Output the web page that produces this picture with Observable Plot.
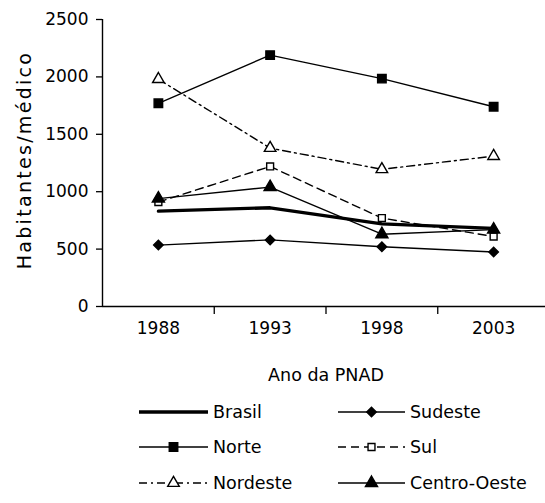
<!DOCTYPE html>
<html><head><meta charset="utf-8">
<script src="https://cdn.jsdelivr.net/npm/d3@7"></script>
<script src="https://cdn.jsdelivr.net/npm/@observablehq/plot@0.6"></script>
<style>
body{margin:0;background:#fff;font-family:"DejaVu Sans",sans-serif}
#chart{width:545px}
#chart svg{display:block}
</style>
</head><body><div id="chart"></div>
<script>
// ---- data ----
const years = [1988, 1993, 1998, 2003];
const yTicks = [0, 500, 1000, 1500, 2000, 2500];
const seriesNames = ["Brasil", "Sudeste", "Norte", "Sul", "Nordeste", "Centro-Oeste"];
const brasil      = [830, 860, 720, 680];
const sudeste     = [535, 580, 520, 475];
const norte       = [1770, 2190, 1985, 1740];
const sul         = [910, 1220, 770, 610];
const nordeste    = [1980, 1380, 1195, 1310];
const centroOeste = [940, 1040, 630, 670];
const yLabel = "Habitantes/médico";
const xLabel = "Ano da PNAD";

const seriesValues = [brasil, sudeste, norte, sul, nordeste, centroOeste];
const table = [];
seriesNames.forEach((s, i) => years.forEach((yr, j) => table.push({series: s, year: yr, value: seriesValues[i][j]})));

// ---- styles ----
const styles = {
  "Brasil":       {sw: 3.3, dash: null, symbol: null},
  "Sudeste":      {sw: 1.4, dash: null, symbol: "diamond2", fill: "black", r: 4.3},
  "Norte":        {sw: 1.4, dash: null, symbol: "square", fill: "black", r: 4.8},
  "Sul":          {sw: 1.4, dash: "8,5", symbol: "square", fill: "white", r: 3.9},
  "Nordeste":     {sw: 1.4, dash: "8,4,2,4", symbol: "triangle", fill: "white", r: 4.3},
  "Centro-Oeste": {sw: 1.4, dash: null, symbol: "triangle", fill: "black", r: 4.5}
};
const bounds = years.slice(1).map((y, i) => (y + years[i]) / 2);
const xDomain = [years[0] - 2.5, years[years.length - 1] + 2.5];

const lineMarks = seriesNames.map(s => Plot.line(table.filter(d => d.series === s), {
  x: "year", y: "value", stroke: "black", strokeWidth: styles[s].sw,
  strokeDasharray: styles[s].dash || undefined
}));
const dotMarks = seriesNames.filter(s => styles[s].symbol).map(s => Plot.dot(table.filter(d => d.series === s), {
  x: "year", y: "value", symbol: styles[s].symbol, r: styles[s].r,
  fill: styles[s].fill, stroke: "black", strokeWidth: 1.4
}));

const plot = Plot.plot({
  width: 545, height: 390,
  marginTop: 19, marginBottom: 84, marginLeft: 102, marginRight: 0,
  style: {fontFamily: "DejaVu Sans", fontSize: "17px", color: "black", background: "white"},
  x: {type: "linear", domain: xDomain, range: [102, 549]},
  y: {domain: [0, 2500]},
  marks: [
    Plot.axisY({ticks: yTicks, tickSize: 6, tickPadding: 8, label: null, strokeWidth: 1.3, tickFormat: d => String(d)}),
    Plot.axisX({ticks: years, tickSize: 0, tickPadding: 15, label: null, tickFormat: d => String(d)}),
    Plot.axisX({ticks: bounds, tickSize: 8, tickFormat: () => "", label: null, strokeWidth: 1.3}),
    Plot.ruleY([0], {stroke: "black", strokeWidth: 1.4}),
    Plot.ruleX([xDomain[0]], {stroke: "black", strokeWidth: 1.4}),
    Plot.text([yLabel], {text: d => d, frameAnchor: "left", textAnchor: "middle", dx: -78, dy: -3, rotate: -90, fontSize: 19}),
    Plot.text([xLabel], {text: d => d, frameAnchor: "bottom", lineAnchor: "middle", dx: 2, dy: 69, fontSize: 17.5}),
    ...lineMarks,
    ...dotMarks
  ]
});
const chart = document.getElementById("chart");
chart.appendChild(plot);
// letter spacing on y-title
d3.select(plot).selectAll("text").filter(function(){ return this.textContent === yLabel; }).style("letter-spacing", "2.3px");

// ---- legend ----
const symMap = {square: d3.symbolSquare, diamond2: d3.symbolDiamond2, triangle: d3.symbolTriangle};
const leg = d3.select(chart).append("svg").attr("width", 545).attr("height", 113)
  .style("font-family", "DejaVu Sans").style("font-size", "17.5px");
const legendOrder = [["Brasil", "Sudeste"], ["Norte", "Sul"], ["Nordeste", "Centro-Oeste"]];
const rowY = [22, 57, 93];
const colX = [[139, 208], [338, 405]];
legendOrder.forEach((row, ri) => row.forEach((s, ci) => {
  const st = styles[s];
  const [x1, x2] = colX[ci];
  const y = rowY[ri];
  const g = leg.append("g");
  g.append("line").attr("x1", x1).attr("x2", x2).attr("y1", y).attr("y2", y)
    .attr("stroke", "black").attr("stroke-width", st.sw)
    .attr("stroke-dasharray", st.dash);
  if (st.symbol) {
    g.append("path").attr("transform", `translate(${(x1 + x2) / 2},${y})`)
      .attr("d", d3.symbol(symMap[st.symbol], st.r * st.r * Math.PI)())
      .attr("fill", st.fill).attr("stroke", "black").attr("stroke-width", 1.4);
  }
  g.append("text").attr("x", x2 + 5).attr("y", y).attr("dy", "0.35em").text(s);
}));
</script>
</body></html>
